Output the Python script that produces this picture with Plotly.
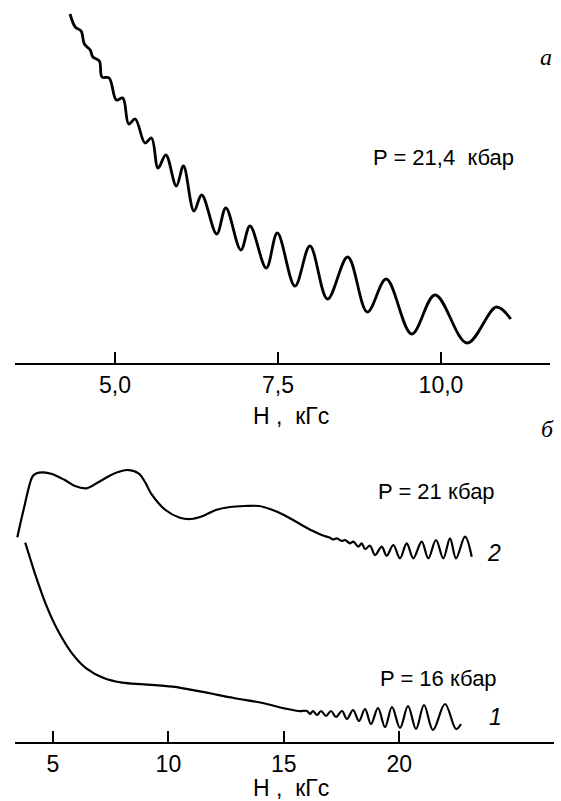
import plotly.graph_objects as go

# ---- panel a (P = 21,4 kbar) ----
a_H = [4.31, 4.39, 4.48, 4.53, 4.62, 4.66, 4.76, 4.80, 4.91, 5.02, 5.12, 5.21, 5.31,
       5.46, 5.56, 5.66, 5.78, 5.94, 6.05, 6.21, 6.33, 6.56, 6.70, 6.93, 7.07, 7.32,
       7.49, 7.76, 7.99, 8.26, 8.57, 8.87, 9.16, 9.55, 9.91, 10.40, 10.85, 11.07]
a_sig = [34.9, 33.6, 33.2, 31.9, 31.3, 30.6, 30.2, 28.6, 28.5, 26.3, 26.5, 23.9, 24.4,
         22.0, 22.5, 19.5, 20.8, 17.7, 19.7, 15.2, 16.8, 12.9, 15.5, 11.3, 13.7, 9.5,
         13.0, 7.7, 11.7, 6.4, 10.6, 5.1, 8.4, 2.9, 6.8, 2.0, 5.6, 4.4]
a_ticks = [5.0, 7.5, 10.0]
a_ticktext = ["5,0", "7,5", "10,0"]

# ---- panel b, curve 2 (P = 21 kbar) ----
c2_H = [3.456, 3.746, 4.110, 4.266, 4.578, 4.959, 5.509, 5.955, 6.444, 6.908, 7.380,
        7.817, 8.237, 8.705, 8.987, 9.246, 9.874, 10.498, 10.961, 11.498, 12.053,
        12.668, 13.300, 13.924, 14.400, 15.006, 15.699, 16.262, 16.696, 16.999,
        17.129, 17.289, 17.505, 17.648, 17.865, 18.008, 18.224, 18.372, 18.515,
        18.731, 18.948, 19.238, 19.454, 19.740, 20.030, 20.320, 20.606, 20.970,
        21.256, 21.589, 21.906, 22.196, 22.456, 22.845, 23.136]
c2_sig = [20.47, 23.4, 26.53, 26.85, 26.97, 26.8, 26.2, 25.6, 25.37, 25.9, 26.53,
          27.0, 27.2, 26.87, 26.0, 24.87, 23.2, 22.43, 22.3, 22.6, 23.2,
          23.5, 23.6, 23.6, 23.3, 22.7, 21.8, 21.1, 20.65, 20.43,
          20.25, 20.37, 20.1, 20.2, 19.87, 20.03, 19.53, 19.87, 19.3,
          19.63, 18.7, 19.53, 18.63, 19.7, 18.37, 19.87, 18.37, 20.03,
          18.37, 20.2, 18.37, 20.37, 18.37, 20.53, 18.53]

# ---- panel b, curve 1 (P = 16 kbar) ----
c1_H = [3.798, 4.006, 4.266, 4.734, 5.201, 5.825, 6.444, 7.224, 8.003, 8.939, 10.186,
        11.429, 12.832, 14.080, 15.015, 15.639, 16.003, 16.133, 16.262, 16.436,
        16.609, 16.826, 17.042, 17.259, 17.518, 17.735, 17.995, 18.255, 18.515,
        18.774, 19.078, 19.381, 19.684, 20.030, 20.377, 20.723, 21.070, 21.460,
        21.980, 22.456, 22.672]
c1_sig = [19.93, 18.4, 16.53, 13.53, 11.2, 8.87, 7.37, 6.37, 5.93, 5.77, 5.53,
          5.03, 4.4, 3.9, 3.37, 3.1, 3.1, 2.8, 3.1, 2.7,
          3.1, 2.6, 3.1, 2.5, 3.1, 2.3, 3.2, 2.1, 3.3,
          1.8, 3.4, 1.5, 3.5, 1.4, 3.6, 1.3, 3.7, 1.2,
          3.8, 1.3, 1.8]
b_ticks = [5, 10, 15, 20]
b_ticktext = ["5", "10", "15", "20"]

W, Hpx = 561, 801

def px(x):
    return min(max(x / W, 0.0), 1.0)

def py(y):
    return min(max(1 - y / Hpx, 0.0), 1.0)

SANS = "Liberation Sans, Arial, sans-serif"
SERIF = "Liberation Serif, Times New Roman, serif"

fig = go.Figure()
fig.add_trace(go.Scatter(x=a_H, y=a_sig, mode="lines", xaxis="x", yaxis="y",
                         line=dict(color="black", width=2.8, shape="spline", smoothing=1.0),
                         showlegend=False, hoverinfo="skip"))
fig.add_trace(go.Scatter(x=c2_H, y=c2_sig, mode="lines", xaxis="x2", yaxis="y2",
                         line=dict(color="black", width=2.2, shape="spline", smoothing=1.0),
                         showlegend=False, hoverinfo="skip"))
fig.add_trace(go.Scatter(x=c1_H, y=c1_sig, mode="lines", xaxis="x2", yaxis="y2",
                         line=dict(color="black", width=2.2, shape="spline", smoothing=1.0),
                         showlegend=False, hoverinfo="skip"))

axis_common = dict(showline=True, linecolor="black", linewidth=2, ticks="inside",
                   ticklen=11, tickwidth=1.6, tickcolor="black", showgrid=False,
                   zeroline=False, tickfont=dict(family=SANS, size=23, color="black"),
                   fixedrange=True)

fig.update_layout(
    width=W, height=Hpx, margin=dict(l=0, r=0, t=0, b=0),
    paper_bgcolor="white", plot_bgcolor="white",
    xaxis=dict(domain=[px(15), px(550)], range=[3.466, 11.672], anchor="y",
               tickvals=a_ticks, ticktext=a_ticktext, **axis_common),
    yaxis=dict(domain=[py(363), py(10)], range=[0, 35.3], visible=False, fixedrange=True),
    xaxis2=dict(domain=[px(15), px(554)], range=[3.356, 26.70], anchor="y2",
                tickvals=b_ticks, ticktext=b_ticktext, **axis_common),
    yaxis2=dict(domain=[py(742), py(440)], range=[0, 30.2], visible=False, fixedrange=True),
)

def ann(text, x, y, size=22, family=SANS):
    fig.add_annotation(text=text, x=px(x), y=py(y), xref="paper", yref="paper",
                       showarrow=False, xanchor="center", yanchor="middle",
                       borderpad=0,
                       font=dict(family=family, size=size, color="black"))

ann("<i>a</i>", 546, 57, size=24, family=SERIF)
ann("<i>б</i>", 547, 429, size=24, family=SERIF)
ann("P = 21,4  кбар", 443, 157)
ann("H ,  кГс", 291, 416, size=23)
ann("P = 21 кбар", 436, 492)
ann("<i>2</i>", 494, 553, size=23)
ann("P = 16 кбар", 439, 678)
ann("<i>1</i>", 495, 717, size=23)
ann("H ,  кГс", 291, 788, size=23)

# the page's default body margin would push the 561x801 figure out of the window
fig.write_html("out.html", config={"displayModeBar": False},
               post_script="document.body.style.margin='0px';")
